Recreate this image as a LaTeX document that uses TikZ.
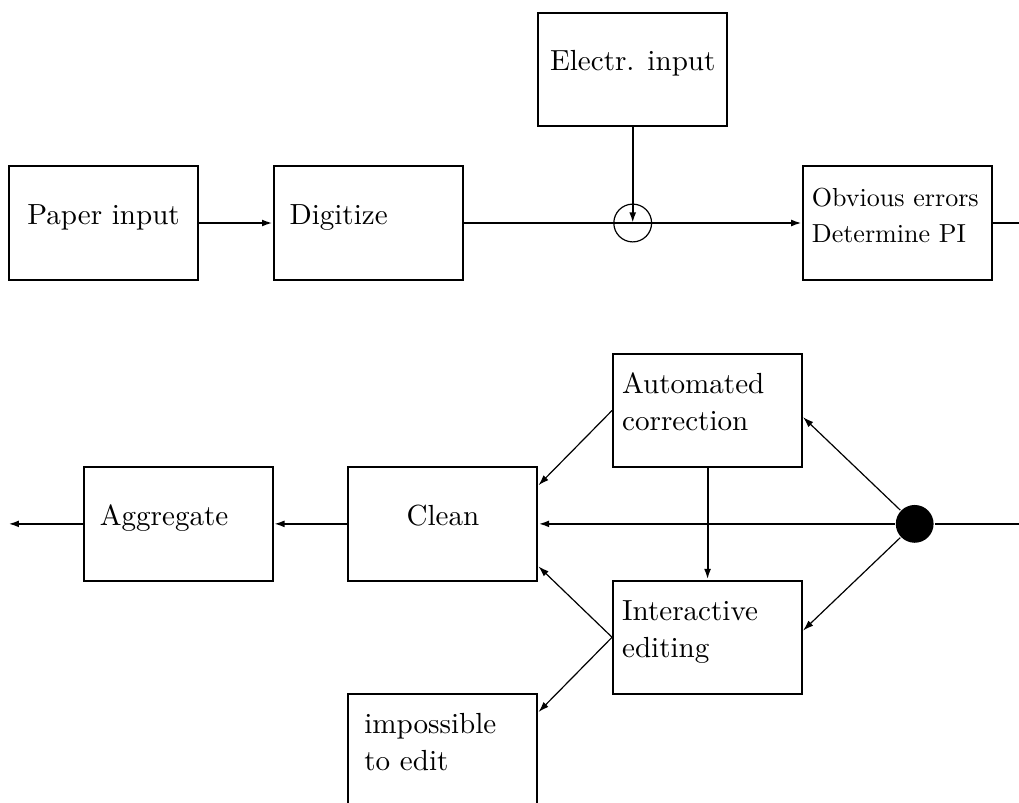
\documentclass[tikz,border=0pt]{standalone}
\usetikzlibrary{arrows.meta}

\begin{document}
\begin{tikzpicture}[auto,node distance=3.5cm,line width=0.75pt,
                    >={Latex[length=4pt,width=2.6pt]},
                    box/.style={rectangle,draw,minimum width=2.5cm,minimum height=1.5cm,
                                font=\fontsize{10.95}{13.9}\selectfont},
                    one line/.style={text height=8pt,text depth=7pt},
                    two lines/.style={text height=7pt,text depth=19.8pt},
                    left text/.style={align=left,inner xsep=0.12cm,text width=2.26cm},
                    wide margin/.style={align=left,inner xsep=0.21cm,text width=2.08cm},
                    junction/.style={circle,draw,line width=0.45pt,minimum size=0.5cm,inner sep=0pt},
                    split dot/.style={circle,fill,minimum size=0.5cm,inner sep=0pt},
                    thin line/.style={line width=0.45pt}]

  \useasboundingbox (0,0) rectangle (13.48,-10.62);

  % upper row
  \node[box,one line] (paper) at (1.37,-2.95) {Paper input};
  \node[box,one line,wide margin] (digit) [right of=paper] {Digitize};
  \node[junction] (merge) [right of=digit] {};
  \node[box,two lines,left text,font=\fontsize{9.8}{13.9}\selectfont] (errors) [right of=merge] {Obvious errors\\Determine PI};
  \node[box,one line] (electr) [above of=merge,node distance=2.03cm] {Electr. input};
  \coordinate (cont) at (13.48,-2.95);

  % lower row
  \node[box,one line] (clean) at (5.86,-6.93) {Clean};
  \node[box,one line,wide margin] (aggr) [left of=clean] {Aggregate};
  \node[box,two lines,left text] (auto) at (9.36,-5.43) {Automated\\correction};
  \node[box,two lines,left text] (inter) [below of=auto,node distance=3cm] {Interactive\\editing};
  \node[box,two lines,wide margin] (imposs) [below of=clean,node distance=3cm] {impossible\\to edit};
  \node[split dot] (split) at (12.10,-6.93) {};
  \coordinate (in) at (13.48,-6.93);
  \coordinate (out) at (0.11,-6.93);

  \path[->]
    (paper) edge (digit)
    (digit) edge (errors)
    (electr) edge (merge.center)
    (errors) edge[-] (cont)
    (in) edge[-] (split)
    (split) edge (clean)
    (clean) edge (aggr)
    (aggr) edge (out)
    (auto) edge (inter);

  \path[->,thin line]
    (split) edge (auto.-4)
    (split) edge (inter.4)
    (auto.west) edge (clean.22)
    (inter.west) edge (clean.-24)
    (inter.west) edge (imposs.22);
\end{tikzpicture}
\end{document}
